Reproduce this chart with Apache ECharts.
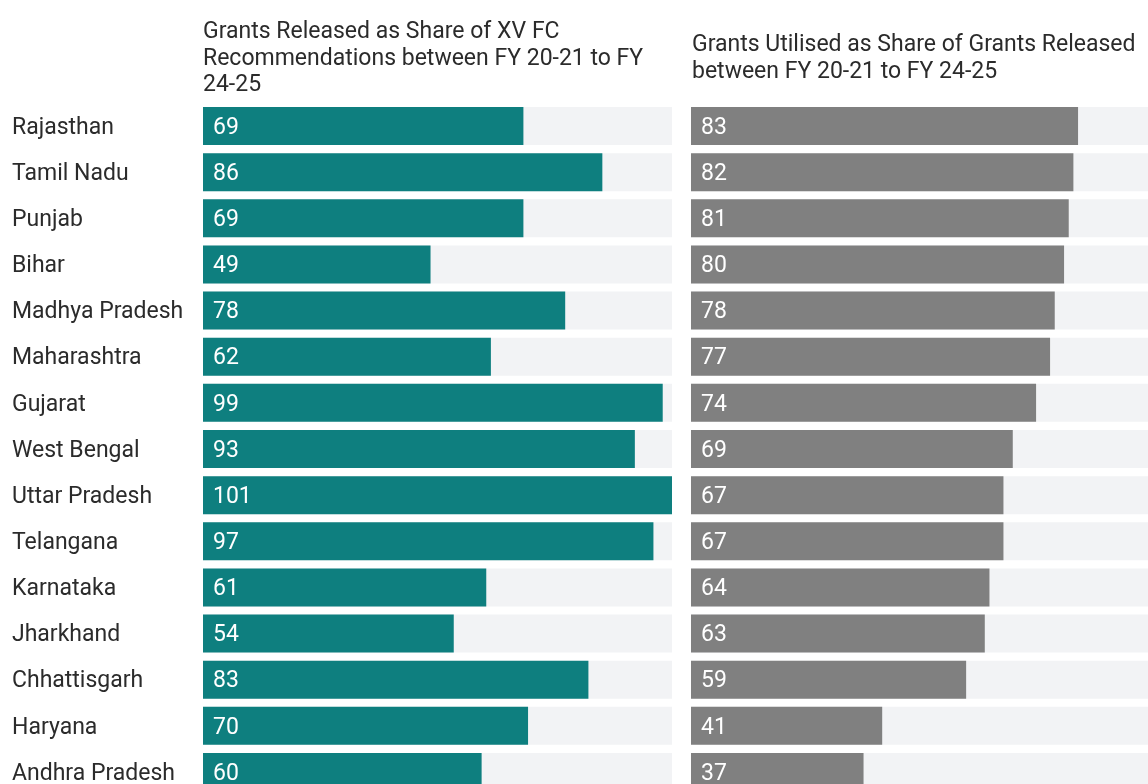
<!DOCTYPE html>
<html>
<head>
<meta charset="utf-8">
<script src="https://cdn.jsdelivr.net/npm/echarts@6/dist/echarts.min.js"></script>
<style>
  html, body { margin: 0; padding: 0; background: #ffffff; }
  #chart { width: 1148px; height: 784px; }
</style>
</head>
<body>
<div id="chart"></div>
<script>
// States, ranked by utilisation of released grants
const states = [
  'Rajasthan', 'Tamil Nadu', 'Punjab', 'Bihar', 'Madhya Pradesh',
  'Maharashtra', 'Gujarat', 'West Bengal', 'Uttar Pradesh', 'Telangana',
  'Karnataka', 'Jharkhand', 'Chhattisgarh', 'Haryana', 'Andhra Pradesh'
];
// Grants released as % of XV FC recommendations (FY 20-21 to FY 24-25)
const releasedShare = [69, 86, 69, 49, 78, 62, 99, 93, 101, 97, 61, 54, 83, 70, 60];
// Grants utilised as % of grants released (FY 20-21 to FY 24-25)
const utilisedShare = [83, 82, 81, 80, 78, 77, 74, 69, 67, 67, 64, 63, 59, 41, 37];

const titleReleased = 'Grants Released as Share of XV FC\nRecommendations between FY 20-21 to FY\n24-25';
const titleUtilised = 'Grants Utilised as Share of Grants Released\nbetween FY 20-21 to FY 24-25';

const FONT = 'Roboto, "Noto Sans", sans-serif';
const FS = 23;
const scaleMax = 101;

const chart = echarts.init(document.getElementById('chart'), null, { renderer: 'canvas' });

function valueLabel() {
  return {
    show: true,
    position: 'insideLeft',
    distance: 10,
    offset: [0, 2],
    color: '#ffffff',
    fontFamily: FONT,
    fontSize: FS
  };
}

const titleStyle = { fontFamily: FONT, fontSize: FS, fontWeight: 'normal', color: '#2b2b2b', lineHeight: 26.5 };

chart.setOption({
  animation: false,
  backgroundColor: '#ffffff',
  title: [
    { text: titleReleased, left: 203, top: 19, padding: 0, textStyle: titleStyle },
    { text: titleUtilised, left: 692, top: 32, padding: 0, textStyle: titleStyle }
  ],
  grid: [
    { left: 203, top: 103, width: 469, height: 692, outerBoundsMode: 'none', containLabel: false },
    { left: 691, top: 103, width: 471, height: 692, outerBoundsMode: 'none', containLabel: false }
  ],
  xAxis: [
    { gridIndex: 0, type: 'value', min: 0, max: scaleMax, show: false },
    { gridIndex: 1, type: 'value', min: 0, max: scaleMax, show: false }
  ],
  yAxis: [
    {
      gridIndex: 0, type: 'category', data: states, inverse: true,
      axisLine: { show: false }, axisTick: { show: false }, splitLine: { show: false },
      axisLabel: {
        align: 'left', margin: 191,
        formatter: '{s|{value}}',
        rich: {
          s: { fontFamily: FONT, fontSize: FS, color: '#2b2b2b', padding: [4, 0, 0, 0] }
        }
      }
    },
    {
      gridIndex: 1, type: 'category', data: states, inverse: true,
      axisLine: { show: false }, axisTick: { show: false }, splitLine: { show: false },
      axisLabel: { show: false }
    }
  ],
  series: [
    {
      type: 'bar', name: 'Released',
      xAxisIndex: 0, yAxisIndex: 0,
      data: releasedShare,
      barWidth: 38,
      itemStyle: { color: '#0e7f7f' },
      showBackground: true,
      backgroundStyle: { color: '#f2f3f5' },
      label: valueLabel()
    },
    {
      type: 'bar', name: 'Utilised',
      xAxisIndex: 1, yAxisIndex: 1,
      data: utilisedShare,
      barWidth: 38,
      itemStyle: { color: '#808080' },
      showBackground: true,
      backgroundStyle: { color: '#f2f3f5' },
      label: valueLabel()
    }
  ]
});
</script>
</body>
</html>
